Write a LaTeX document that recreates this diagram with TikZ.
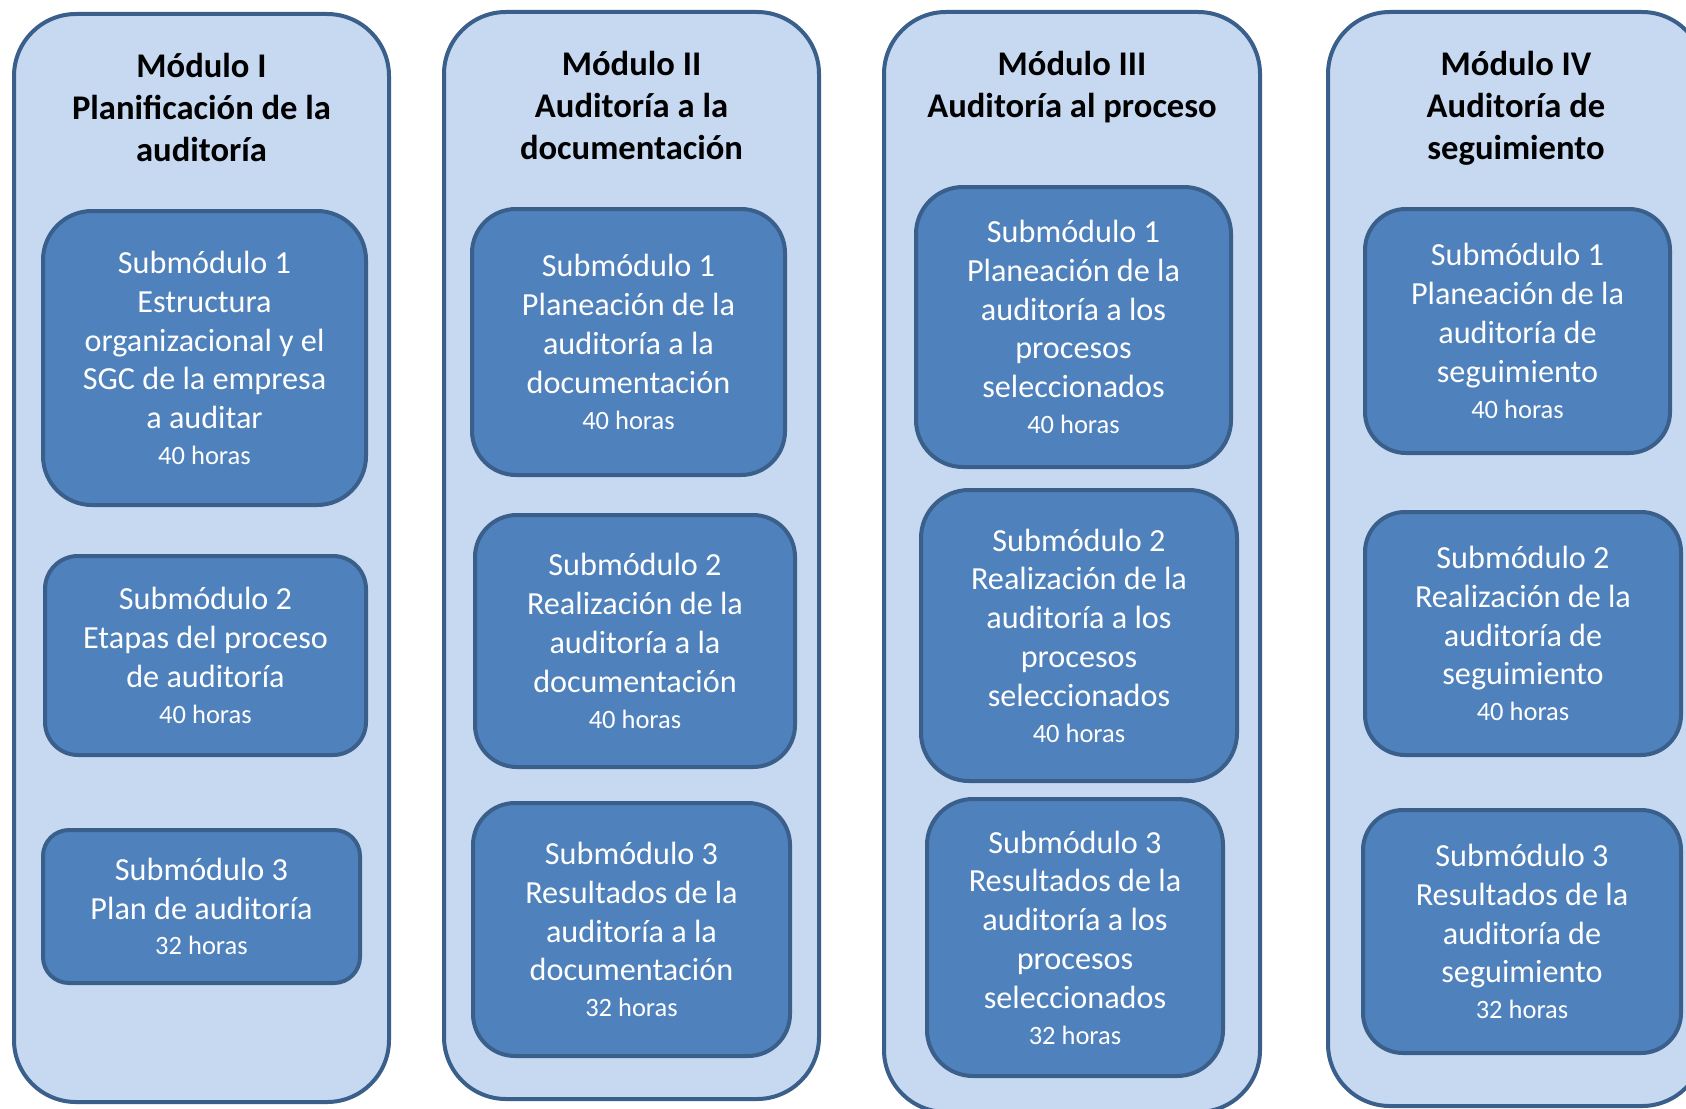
\documentclass[tikz,border=0pt]{standalone}
\usepackage{fontspec}
\setmainfont{Carlito}
\definecolor{modfill}{HTML}{C6D9F1}
\definecolor{modline}{HTML}{3A5F8B}
\definecolor{subfill}{HTML}{4F81BD}
\newcommand{\horas}[1]{{\fontsize{26.5}{30}\selectfont #1 horas}}
\tikzset{
  modulo/.style={draw=modline, fill=modfill, line width=4pt, rounded corners=62pt, inner sep=0pt},
  titulo/.style={font=\bfseries\fontsize{34.6}{42}\selectfont, align=center, anchor=north, inner sep=0pt},
  submod/.style={draw=modline, fill=subfill, line width=4pt, text=white, align=center,
    inner sep=0pt, font=\fontsize{32.2}{38.8}\selectfont}
}
\begin{document}
\begin{tikzpicture}[x=1pt,y=-1pt]
    \useasboundingbox (0,0) rectangle (1686,1108);
    \clip (0,0) rectangle (1686,1108);
    \fill[white] (0,0) rectangle (1686,1108);

    % modules
    \node[modulo, minimum width=375pt, minimum height=1088pt] (modI) at (201.5,558) {};
    \node[modulo, minimum width=375pt, minimum height=1087pt] (modII) at (631.5,555.5) {};
    \node[modulo, minimum width=376pt, minimum height=1100pt] (modIII) at (1072,562) {};
    \node[modulo, minimum width=376pt, minimum height=1094pt] (modIV) at (1516,559) {};

    % titles
    \node[titulo] (tI) at (201.5,53) {Módulo I\\Planificación de la\\auditoría};
    \node[titulo] (tII) at (631.5,51) {Módulo II\\Auditoría a la\\documentación};
    \node[titulo] (tIII) at (1072,51) {Módulo III\\Auditoría al proceso};
    \node[titulo] (tIV) at (1516,51) {Módulo IV\\Auditoría de\\seguimiento};

    % Modulo I
    \node[submod, minimum width=323pt, minimum height=294pt, rounded corners=49pt] (subI1) at (204.5,358)
        {Submódulo 1\\Estructura\\organizacional y el\\SGC de la empresa\\a auditar\\[-3pt]\horas{40}};
    \node[submod, minimum width=321pt, minimum height=199pt, rounded corners=33pt] (subI2) at (205.5,655.5)
        {Submódulo 2\\Etapas del proceso\\de auditoría\\[-3pt]\horas{40}};
    \node[submod, minimum width=317pt, minimum height=153pt, rounded corners=26pt] (subI3) at (201.5,906.5)
        {Submódulo 3\\Plan de auditoría\\[-3pt]\horas{32}};

    % Modulo II
    \node[submod, minimum width=313pt, minimum height=266pt, rounded corners=44pt] (subII1) at (628.5,342)
        {Submódulo 1\\Planeación de la\\auditoría a la\\documentación\\[-3pt]\horas{40}};
    \node[submod, minimum width=320pt, minimum height=252pt, rounded corners=42pt] (subII2) at (635,641)
        {Submódulo 2\\Realización de la\\auditoría a la\\documentación\\[-3pt]\horas{40}};
    \node[submod, minimum width=317pt, minimum height=253pt, rounded corners=42pt] (subII3) at (631.5,929.5)
        {Submódulo 3\\Resultados de la\\auditoría a la\\documentación\\[-3pt]\horas{32}};

    % Modulo III
    \node[submod, minimum width=315pt, minimum height=280pt, rounded corners=47pt] (subIII1) at (1073.5,327)
        {Submódulo 1\\Planeación de la\\auditoría a los\\procesos\\seleccionados\\[-3pt]\horas{40}};
    \node[submod, minimum width=316pt, minimum height=291pt, rounded corners=48pt] (subIII2) at (1079,635.5)
        {Submódulo 2\\Realización de la\\auditoría a los\\procesos\\seleccionados\\[-3pt]\horas{40}};
    \node[submod, minimum width=296pt, minimum height=277pt, rounded corners=46pt] (subIII3) at (1075,937.5)
        {Submódulo 3\\Resultados de la\\auditoría a los\\procesos\\seleccionados\\[-3pt]\horas{32}};

    % Modulo IV
    \node[submod, minimum width=305pt, minimum height=244pt, rounded corners=41pt] (subIV1) at (1517.5,331)
        {Submódulo 1\\Planeación de la\\auditoría de\\seguimiento\\[-3pt]\horas{40}};
    \node[submod, minimum width=316pt, minimum height=243pt, rounded corners=40pt] (subIV2) at (1523,633.5)
        {Submódulo 2\\Realización de la\\auditoría de\\seguimiento\\[-3pt]\horas{40}};
    \node[submod, minimum width=318pt, minimum height=243pt, rounded corners=40pt] (subIV3) at (1522,931.5)
        {Submódulo 3\\Resultados de la\\auditoría de\\seguimiento\\[-3pt]\horas{32}};
\end{tikzpicture}
\end{document}
